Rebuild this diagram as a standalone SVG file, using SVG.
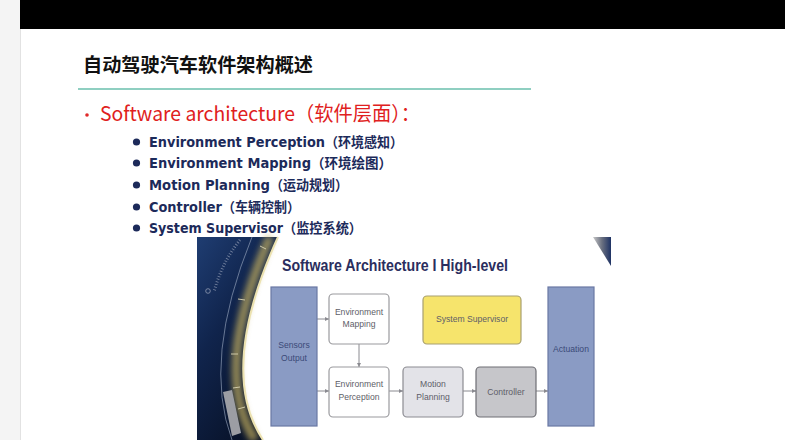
<svg xmlns="http://www.w3.org/2000/svg" width="785" height="440" viewBox="0 0 785 440">
<style>
.cn{font-family:"Noto Sans CJK SC","Noto Sans",sans-serif}
.sub{font-family:"DejaVu Sans","Noto Sans CJK SC",sans-serif;font-weight:bold;font-size:13.5px;fill:#1c2a5a}
.subcn{font-family:"Noto Sans CJK SC",sans-serif;font-weight:bold;font-size:13.5px;fill:#1c2a5a}
.bl{font-family:"Liberation Sans","Noto Sans",sans-serif;font-size:8.6px;fill:#5e5e68;text-anchor:middle}
.blb{font-family:"Liberation Sans","Noto Sans",sans-serif;font-size:8.6px;fill:#3b4a78;text-anchor:middle}
.wbox{fill:#ffffff;stroke:#9a9a9e;stroke-width:1.2}
.side{fill:#8a9bc4;stroke:#6a78a4;stroke-width:1.2}
.conn{stroke:#8a8a90;stroke-width:1;fill:none;marker-end:url(#ah)}
</style>
<defs>
<marker id="ah" viewBox="0 0 6 6" refX="6" refY="3" markerWidth="4" markerHeight="4" orient="auto" markerUnits="userSpaceOnUse">
<path d="M0,0 L6,3 L0,6 z" fill="#8a8a90"/>
</marker>
<linearGradient id="dark" x1="0" y1="0" x2="0.6" y2="1">
<stop offset="0" stop-color="#1f3d72"/>
<stop offset="0.45" stop-color="#10244c"/>
<stop offset="1" stop-color="#081228"/>
</linearGradient>
<linearGradient id="tri" x1="0" y1="0" x2="1" y2="0">
<stop offset="0" stop-color="#c8c8c8"/>
<stop offset="0.5" stop-color="#6a7080"/>
<stop offset="1" stop-color="#1e3264"/>
</linearGradient>
<filter id="blur" x="-50%" y="-10%" width="200%" height="120%">
<feGaussianBlur stdDeviation="3"/>
</filter>
</defs>

<rect x="0" y="0" width="785" height="440" fill="#ffffff"/>
<rect x="0" y="0" width="20" height="440" fill="#f4f4f4"/>
<line x1="20.5" y1="0" x2="20.5" y2="440" stroke="#e2e2e2" stroke-width="1"/>
<rect x="20" y="0" width="765" height="29" fill="#000000"/>

<g id="title">
<text x="83" y="72" class="cn" font-size="19" font-weight="bold" fill="#111111" textLength="230" lengthAdjust="spacingAndGlyphs">自动驾驶汽车软件架构概述</text>
<line x1="78" y1="89" x2="531" y2="89" stroke="#8fcfc1" stroke-width="2.2"/>
</g>

<g id="heading">
<circle cx="87" cy="115" r="1.8" fill="#e02a2a"/>
<text x="100" y="121" class="cn" font-size="20" fill="#e02020"><tspan textLength="195" lengthAdjust="spacingAndGlyphs">Software architecture</tspan><tspan x="295" textLength="125" lengthAdjust="spacingAndGlyphs">（软件层面）：</tspan></text>
</g>

<g id="bullets">
<circle cx="136.5" cy="142" r="3.6" fill="#1c2a5a"/>
<text x="149" y="147" class="sub"><tspan textLength="176" lengthAdjust="spacingAndGlyphs">Environment Perception</tspan></text>
<text x="325" y="147" class="subcn" textLength="78" lengthAdjust="spacingAndGlyphs">（环境感知）</text>
<circle cx="136.5" cy="163" r="3.6" fill="#1c2a5a"/>
<text x="149" y="168" class="sub"><tspan textLength="162" lengthAdjust="spacingAndGlyphs">Environment Mapping</tspan></text>
<text x="311" y="168" class="subcn" textLength="81" lengthAdjust="spacingAndGlyphs">（环境绘图）</text>
<circle cx="136.5" cy="185" r="3.6" fill="#1c2a5a"/>
<text x="149" y="190" class="sub"><tspan textLength="121" lengthAdjust="spacingAndGlyphs">Motion Planning</tspan></text>
<text x="270" y="190" class="subcn" textLength="78" lengthAdjust="spacingAndGlyphs">（运动规划）</text>
<circle cx="136.5" cy="207" r="3.6" fill="#1c2a5a"/>
<text x="149" y="212" class="sub"><tspan textLength="73" lengthAdjust="spacingAndGlyphs">Controller</tspan></text>
<text x="222" y="212" class="subcn" textLength="78" lengthAdjust="spacingAndGlyphs">（车辆控制）</text>
<circle cx="136.5" cy="228" r="3.6" fill="#1c2a5a"/>
<text x="149" y="233" class="sub"><tspan textLength="134" lengthAdjust="spacingAndGlyphs">System Supervisor</tspan></text>
<text x="283" y="233" class="subcn" textLength="79" lengthAdjust="spacingAndGlyphs">（监控系统）</text>
</g>

<g id="picture-backdrop">
<path d="M197,237 L278,237 Q217,371 263,440 L197,440 Z" fill="url(#dark)"/>
<path d="M270,237 Q211,371 255,440" fill="none" stroke="#c2ae5e" stroke-width="9" opacity="0.75" filter="url(#blur)"/>
<path d="M278,237 Q217,371 263,440" fill="none" stroke="#ece2b0" stroke-width="2"/>
<path d="M252,237 Q202,360 232,440" fill="none" stroke="#9aa8c0" stroke-width="0.8" opacity="0.8"/>
<path d="M240,240 Q222,262 214,292" fill="none" stroke="#8f9ab2" stroke-width="3" stroke-dasharray="0.8 2" opacity="0.8"/>
<circle cx="208" cy="291" r="2.3" fill="none" stroke="#8f9ab2" stroke-width="0.8"/>
<path d="M223,392 L232,390 L241,433 L232,436 Z" fill="#9c9ea4"/>
<g stroke="#cfc9a8" stroke-width="1">
<line x1="260" y1="246" x2="266" y2="249"/>
<line x1="238" y1="299" x2="245" y2="300"/>
<line x1="231" y1="354" x2="238" y2="354"/>
<line x1="233" y1="388" x2="240" y2="387"/>
<line x1="238" y1="409" x2="245" y2="407"/>
</g>
<path d="M593,237 L611,237 L611,266 Z" fill="url(#tri)"/>
</g>

<g id="diagram-title">
<text x="282" y="271" font-family="Liberation Sans, Arial, sans-serif" font-weight="bold" font-size="16" fill="#2b2e5e" textLength="226" lengthAdjust="spacingAndGlyphs">Software Architecture I High-level</text>
</g>

<g id="connectors">
<line class="conn" x1="317" y1="319" x2="329" y2="319"/>
<line class="conn" x1="317" y1="391" x2="329" y2="391"/>
<line class="conn" x1="359" y1="344" x2="359" y2="367"/>
<line class="conn" x1="389" y1="391" x2="403" y2="391"/>
<line class="conn" x1="463" y1="391" x2="476" y2="391"/>
<line class="conn" x1="536" y1="391" x2="548" y2="391"/>
</g>

<g id="sensors">
<rect class="side" x="271" y="287" width="46" height="139"/>
<text class="blb" x="294" y="348">Sensors</text>
<text class="blb" x="294" y="361">Output</text>
</g>
<g id="env-mapping">
<rect class="wbox" x="329" y="294" width="60" height="50" rx="4"/>
<text class="bl" x="359" y="315">Environment</text>
<text class="bl" x="359" y="327">Mapping</text>
</g>
<g id="env-perception">
<rect class="wbox" x="329" y="367" width="60" height="50" rx="4"/>
<text class="bl" x="359" y="387">Environment</text>
<text class="bl" x="359" y="400">Perception</text>
</g>
<g id="system-supervisor">
<rect x="423" y="296" width="98" height="48" rx="4" fill="#f6e46c" stroke="#a8a070" stroke-width="1.2"/>
<text class="bl" x="472" y="322" fill="#55524a">System Supervisor</text>
</g>
<g id="motion-planning">
<rect x="403" y="367" width="60" height="50" rx="4" fill="#e3e3e8" stroke="#8c8c92" stroke-width="1.2"/>
<text class="bl" x="433" y="387">Motion</text>
<text class="bl" x="433" y="400">Planning</text>
</g>
<g id="controller">
<rect x="476" y="367" width="60" height="50" rx="4" fill="#c6c6ca" stroke="#6e6e74" stroke-width="1.2"/>
<text class="bl" x="506" y="395">Controller</text>
</g>
<g id="actuation">
<rect class="side" x="548" y="287" width="46" height="139"/>
<text class="blb" x="571" y="352">Actuation</text>
</g>
</svg>
